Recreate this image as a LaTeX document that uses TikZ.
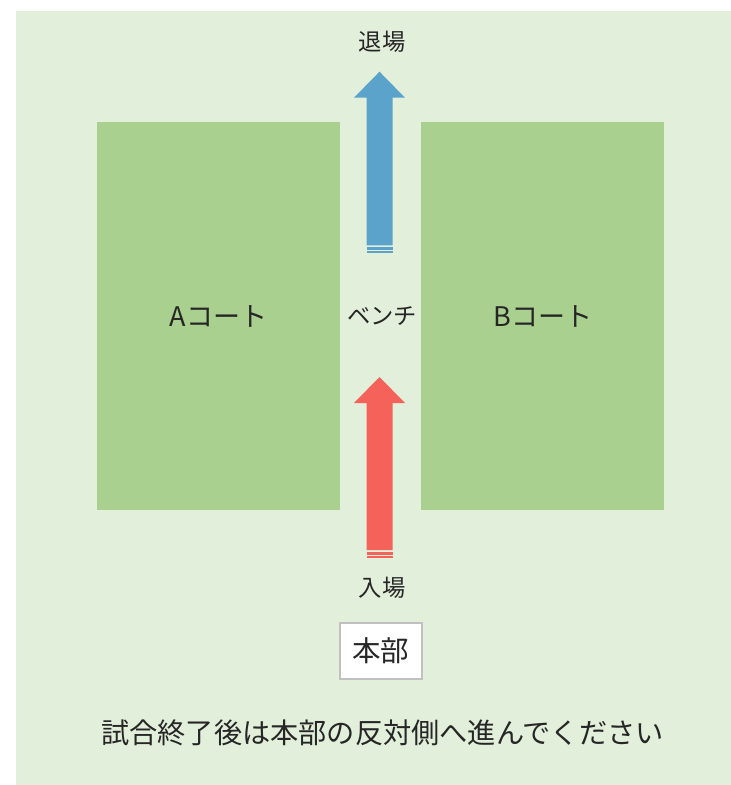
\documentclass[tikz,border=0pt]{standalone}
\usepackage{fontspec}
\setmainfont{Noto Sans CJK JP}
\usetikzlibrary{positioning}

\definecolor{fieldbg}{HTML}{E2EFDA}
\definecolor{courtgreen}{HTML}{A9D08E}
\definecolor{exitblue}{HTML}{5BA3CB}
\definecolor{entryred}{HTML}{F4625A}
\definecolor{inkgray}{HTML}{262626}
\definecolor{boxgray}{HTML}{C0C0C0}

\tikzset{
  court/.style={fill=courtgreen, minimum width=243pt, minimum height=388pt, inner sep=0pt,
    text=inkgray, font=\fontsize{27}{27}\selectfont},
  signtext/.style={text=inkgray, inner sep=0pt, font=\fontsize{23.3}{23.3}\selectfont},
  hqbox/.style={draw=boxgray, line width=2pt, fill=white, minimum width=82pt, minimum height=56pt,
    text=inkgray, font=\fontsize{28.5}{28.5}\selectfont},
}

\begin{document}
\begin{tikzpicture}[x=1pt, y=-1pt]

    \useasboundingbox (0,0) rectangle (731,785);
    \fill[fieldbg] (16,11) rectangle (731,785);

    \node[court] (courtA) at (218.5,316) {Aコート};
    \node[court, right=81pt of courtA] (courtB) {Bコート};

    \foreach \col/\tip/\bot in {exitblue/71.7/245.3, entryred/377/550}
    {
        \fill[\col] (366.5,\bot) -- (366.5,\tip+26) -- (354,\tip+26) -- (379.5,\tip)
            -- (405,\tip+26) -- (392.5,\tip+26) -- (392.5,\bot) -- cycle;
        \fill[\col] (366.5,\bot+1.5) rectangle (392.5,\bot+4.7);
        \fill[\col] (366.5,\bot+6) rectangle (392.5,\bot+8);
    }

    \node[signtext] (exit) at (382,42) {退場};
    \node[signtext] (bench) at (382,316) {ベンチ};
    \node[signtext] (entry) at (382,588) {入場};
    \node[hqbox] (hq) at (380.8,651) {本部};

    \node[text=inkgray, font=\fontsize{28.2}{28.2}\selectfont] (notice) at (382.5,733)
        {試合終了後は本部の反対側へ進んでください};
\end{tikzpicture}
\end{document}
